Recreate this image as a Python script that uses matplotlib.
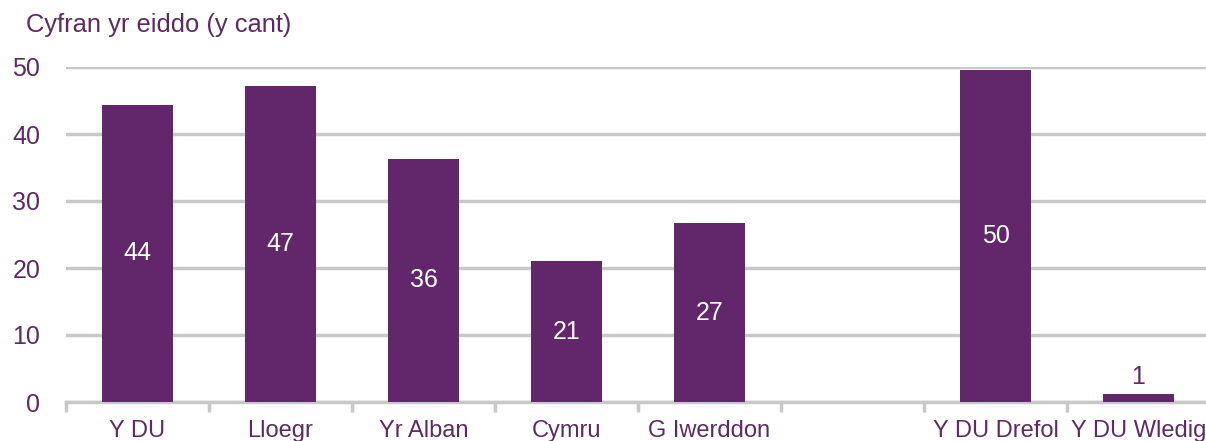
import matplotlib.pyplot as plt

plt.rcParams["font.family"] = ["Liberation Sans", "DejaVu Sans"]

purple = "#62266A"
text_purple = "#5E2A64"
grid_grey = "#C8C8C8"

categories = ["Y DU", "Lloegr", "Yr Alban", "Cymru", "G Iwerddon", "",
              "Y DU Drefol", "Y DU Wledig"]
values = [44.4, 47.2, 36.3, 21.0, 26.7, None, 49.6, 1.2]
labels = ["44", "47", "36", "21", "27", "", "50", "1"]

fig = plt.figure(figsize=(12.06, 4.41), dpi=100)
W, H = 1206, 441
ax = fig.add_axes([66 / W, 39 / H, (1210 - 66) / W, (402 - 67) / H])

xs = [i for i in range(len(categories))]
for x, v, lab in zip(xs, values, labels):
    if v is None:
        continue
    ax.bar(x, v, width=0.5, color=purple, zorder=3)
    if v > 5:
        ax.text(x, v / 2, lab, ha="center", va="center", color="white",
                fontsize=18, zorder=4)
    else:
        ax.text(x, v + 0.8, lab, ha="center", va="bottom", color=text_purple,
                fontsize=18, zorder=4)

ax.set_xlim(-0.5, len(categories) - 0.5)
ax.set_ylim(0, 50)
ax.set_yticks([0, 10, 20, 30, 40, 50])
ax.grid(axis="y", color=grid_grey, linewidth=2.5, zorder=0)
ax.set_axisbelow(True)

ax.set_xticks(xs)
ax.set_xticklabels(categories)
ax.set_xticks([i - 0.5 for i in range(len(categories) + 1)], minor=True)
ax.tick_params(axis="x", which="major", length=0, pad=13,
               labelsize=17, labelcolor=text_purple)
ax.tick_params(axis="x", which="minor", length=7, width=2.5, color=grid_grey)
ax.tick_params(axis="y", length=0, pad=18.5, labelsize=18,
               labelcolor=text_purple)

for s in ["top", "right", "left"]:
    ax.spines[s].set_visible(False)
ax.spines["bottom"].set_color(grid_grey)
ax.spines["bottom"].set_linewidth(2.5)

fig.text(26 / W, 1 - 25 / H, "Cyfran yr eiddo (y cant)", ha="left",
         va="center", fontsize=18.4, color=text_purple)

fig.savefig("out.png", dpi=100)
